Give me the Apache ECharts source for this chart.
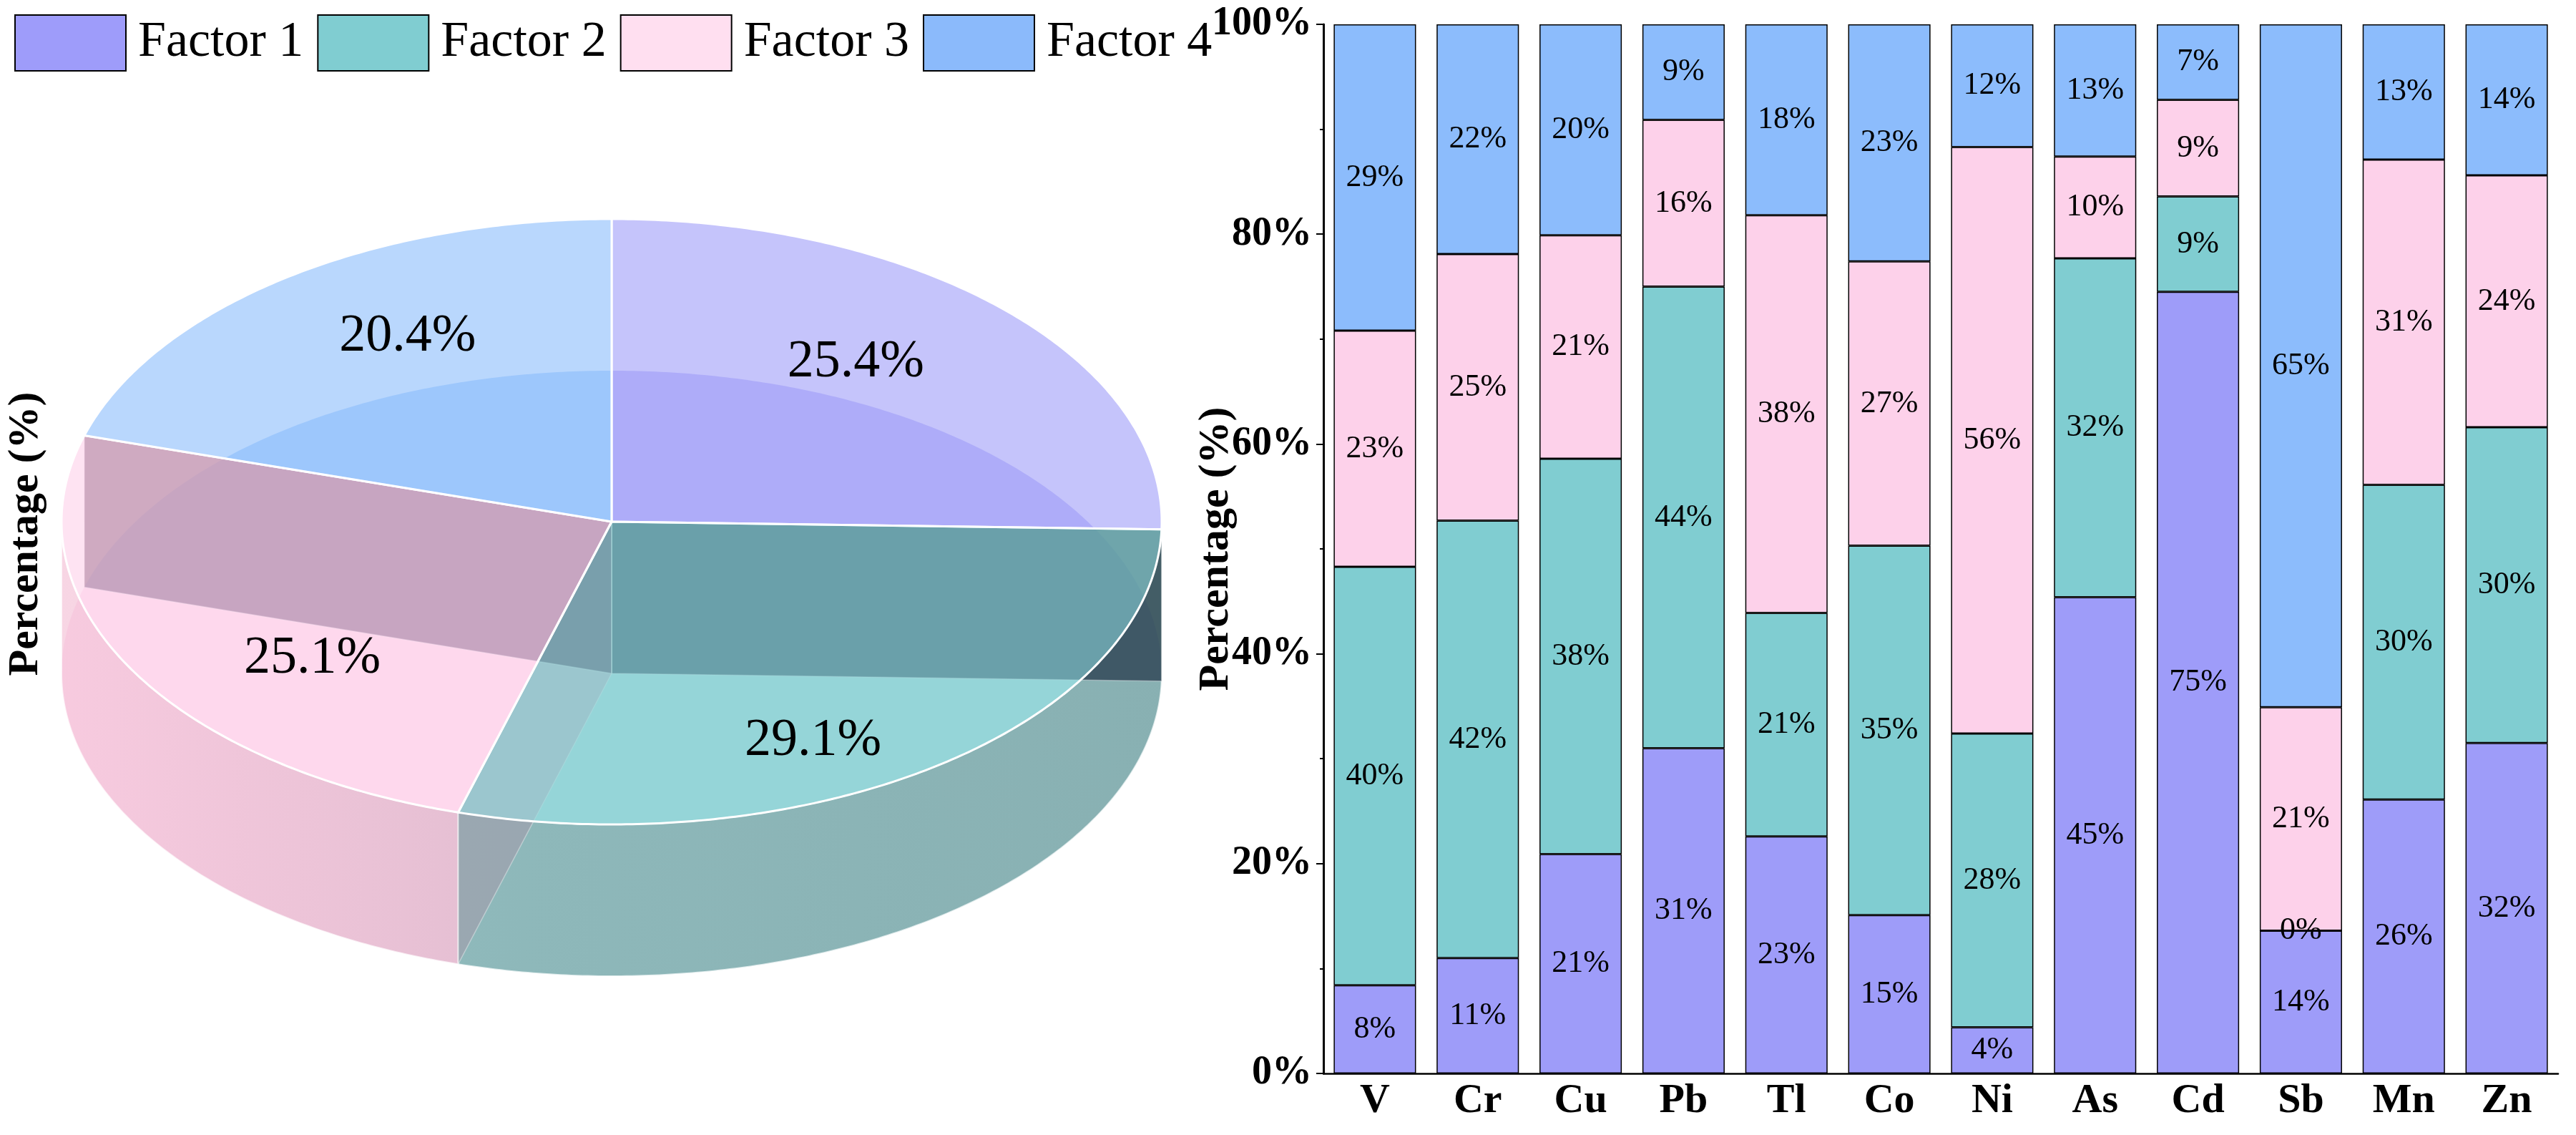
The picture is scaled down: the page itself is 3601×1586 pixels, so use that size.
<!DOCTYPE html>
<html>
<head>
<meta charset="utf-8">
<title>Factor contributions</title>
<style>
    html, body { margin: 0; padding: 0; background: #fff; }
    #chart { width: 3601px; height: 1586px; }
</style>
</head>
<body>
<div id="chart"></div>
<script src="https://cdn.jsdelivr.net/npm/echarts@6/dist/echarts.min.js"></script>
<script>
// ---- data ----
const factorNames = ['Factor 1', 'Factor 2', 'Factor 3', 'Factor 4'];
const elements = ['V', 'Cr', 'Cu', 'Pb', 'Tl', 'Co', 'Ni', 'As', 'Cd', 'Sb', 'Mn', 'Zn'];
const factor1 = [8.4, 11.0, 20.9, 31.0, 22.6, 15.1, 4.4, 45.4, 74.5, 13.6, 26.1, 31.5];
const factor2 = [39.9, 41.7, 37.7, 44.0, 21.3, 35.2, 28.0, 32.3, 9.1, 0, 30.0, 30.1];
const factor3 = [22.5, 25.4, 21.3, 15.9, 37.9, 27.1, 55.9, 9.7, 9.2, 21.3, 31.0, 24.0];
const factor4 = [29.2, 21.9, 20.1, 9.1, 18.2, 22.6, 11.7, 12.6, 7.2, 65.1, 12.9, 14.4];
const pieShare = [25.4, 29.1, 25.1, 20.4];
const yTicks = [0, 20, 40, 60, 80, 100];

// ---- styling ----
const FONT = '"Liberation Serif", "Times New Roman", serif';
const barColors = ['#9e9cf9', '#80cdd1', '#fdd1ea', '#8cbcfc'];
const legendColors = ['#9e9cfa', '#80cdd1', '#ffdff0', '#8bbafb'];
const baseRGB = [[158, 156, 249], [128, 205, 209], [253, 209, 234], [139, 188, 252]];
const wallShade = [                // [left, right] colour of the front wall
    ['rgba(125,123,208,0.6)', 'rgba(125,123,208,0.6)'],
    ['rgba(118,158,160,0.6)', 'rgba(108,144,146,0.6)'],
    ['rgba(243,186,210,0.6)', 'rgba(214,168,191,0.6)'],
    ['rgba(0,0,0,0)', 'rgba(0,0,0,0)']
];
const cutShade = ['rgba(42,69,80,0.8)', 'rgba(135,150,162,0.5)', 'rgba(89,53,81,0.7)', 'rgba(0,0,0,0)'];
const rgba = (c, a) => 'rgba(' + c[0] + ',' + c[1] + ',' + c[2] + ',' + a + ')';

// tilted pie geometry (pixels)
const pie = { cx: 855, cy: 729, rx: 769, ry: 423, depth: 212 };
const pieTotal = pieShare.reduce((a, b) => a + b, 0);
const startAngle = [];
let acc = 0;
pieShare.forEach(v => { startAngle.push(acc / pieTotal * 2 * Math.PI); acc += v; });

function pt(t, r, z) {
    return [pie.cx + pie.rx * r * Math.sin(t), pie.cy - pie.ry * r * Math.cos(t) + z];
}
function arc(a0, a1, z) {
    const n = Math.max(2, Math.ceil(Math.abs(a1 - a0) / 0.01));
    const out = [];
    for (let k = 0; k <= n; k++) out.push(pt(a0 + (a1 - a0) * k / n, 1, z));
    return out;
}

function pieLayer(layer) {
    return function (params, api) {
        const i = params.dataIndex;
        const v = api.value(0);
        const a0 = startAngle[i];
        const a1 = a0 + v / pieTotal * 2 * Math.PI;
        const c = baseRGB[i];
        const d = pie.depth;
        if (layer === 'bottom') {
            return {
                type: 'polygon',
                shape: { points: [pt(0, 0, d)].concat(arc(a0, a1, d)) },
                style: { fill: rgba(c, 0.6) }
            };
        }
        if (layer === 'wall') {
            const s = Math.max(a0, Math.PI / 2), e = Math.min(a1, Math.PI * 1.5);
            if (e <= s) return { type: 'group', children: [] };
            const top = arc(s, e, 0), bot = arc(s, e, d).reverse();
            const xa = pt(s, 1, 0)[0], xb = pt(e, 1, 0)[0];
            return {
                type: 'polygon',
                shape: { points: top.concat(bot) },
                style: {
                    fill: {
                        type: 'linear', global: true,
                        x: Math.min(xa, xb), y: 0, x2: Math.max(xa, xb), y2: 0,
                        colorStops: [{ offset: 0, color: wallShade[i][0] }, { offset: 1, color: wallShade[i][1] }]
                    },
                    stroke: 'rgba(255,255,255,0.7)', lineWidth: 2
                }
            };
        }
        if (layer === 'cut') {
            return {
                type: 'polygon',
                shape: { points: [pt(0, 0, 0), pt(a1, 1, 0), pt(a1, 1, d), pt(0, 0, d)] },
                style: { fill: cutShade[i], stroke: 'rgba(255,255,255,0.35)', lineWidth: 1.5 }
            };
        }
        // top face + label
        const mid = (a0 + a1) / 2;
        return {
            type: 'group',
            children: [{
                type: 'polygon',
                shape: { points: [pt(0, 0, 0)].concat(arc(a0, a1, 0)) },
                style: { fill: rgba(c, 0.6), stroke: '#fff', lineWidth: 3, lineJoin: 'round' }
            }, {
                type: 'text',
                style: {
                    text: v.toFixed(1) + '%',
                    x: pie.cx + 0.62 * pie.rx * Math.sin(mid),
                    y: pie.cy - 0.83 * pie.ry * Math.cos(mid) + 23,
                    font: '74px ' + FONT,
                    fill: '#000',
                    align: 'center',
                    verticalAlign: 'middle'
                }
            }]
        };
    };
}

const pieData = pieShare.map((v, i) => ({ name: factorNames[i], value: v }));
const pieSeries = ['bottom', 'wall', 'cut', 'top'].map((layer, k) => ({
    type: 'custom',
    name: 'pie-' + layer,
    coordinateSystem: 'none',
    renderItem: pieLayer(layer),
    data: pieData,
    silent: true,
    z: 1 + k
}));

const barSeries = [factor1, factor2, factor3, factor4].map((vals, i) => ({
    name: factorNames[i],
    type: 'bar',
    stack: 'total',
    data: vals,
    barWidth: '80%',
    itemStyle: { color: barColors[i], borderColor: '#000', borderWidth: 1.5 },
    label: {
        show: true,
        position: 'inside',
        formatter: p => Math.round(p.value) + '%',
        fontFamily: FONT,
        fontSize: 44,
        color: '#000',
        textBorderWidth: 0
    },
    z: 10
}));

const chart = echarts.init(document.getElementById('chart'));
chart.setOption({
    animation: false,
    backgroundColor: '#fff',
    legend: {
        left: 15,
        top: 15,
        itemWidth: 155,
        itemHeight: 78,
        itemGap: 19,
        icon: 'rect',
        itemStyle: { borderColor: '#000', borderWidth: 2 },
        textStyle: { fontFamily: FONT, fontSize: 70, color: '#000', padding: [0, 0, 0, 12] },
        data: factorNames.map((n, i) => ({ name: n, itemStyle: { color: legendColors[i] } }))
    },
    graphic: [{
        type: 'text',
        x: 36,
        y: 746,
        rotation: Math.PI / 2,
        style: {
            text: 'Percentage (%)',
            font: 'bold 60px ' + FONT,
            fill: '#000',
            align: 'center',
            verticalAlign: 'middle'
        }
    }],
    grid: { left: 1850, right: 25, top: 34, bottom: 86 },
    xAxis: {
        type: 'category',
        data: elements,
        axisLine: { lineStyle: { color: '#000', width: 2.5 } },
        axisTick: { show: false },
        axisLabel: { fontFamily: FONT, fontWeight: 'bold', fontSize: 58, color: '#000', margin: 10 }
    },
    yAxis: {
        type: 'value',
        min: yTicks[0],
        max: yTicks[yTicks.length - 1],
        interval: yTicks[1] - yTicks[0],
        name: 'Percentage (%)',
        nameLocation: 'middle',
        nameGap: 120,
        nameMoveOverlap: false,
        nameTextStyle: { fontFamily: FONT, fontWeight: 'bold', fontSize: 60, color: '#000' },
        axisLine: { show: true, lineStyle: { color: '#000', width: 3 } },
        axisTick: { show: true, length: 10, lineStyle: { color: '#000', width: 2 } },
        minorTick: { show: true, splitNumber: 2, length: 5, lineStyle: { color: '#000', width: 2 } },
        splitLine: { show: false },
        axisLabel: { formatter: '{value}%', fontFamily: FONT, fontWeight: 'bold', fontSize: 56, color: '#000', margin: 16 }
    },
    series: pieSeries.concat(barSeries)
});
</script>
</body>
</html>
